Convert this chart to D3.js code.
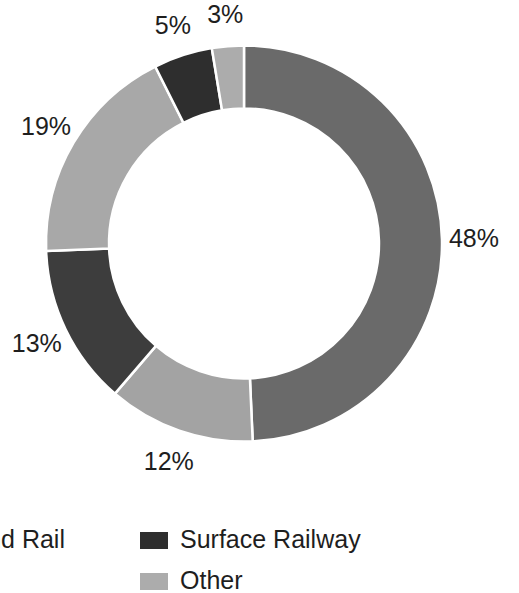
<!DOCTYPE html>
<html>
<head>
<meta charset="utf-8">
<script src="https://cdn.jsdelivr.net/npm/d3@7/dist/d3.min.js"></script>
<style>
  html, body { margin: 0; padding: 0; background: #fff; }
  svg { display: block; }
  text { font-family: "Liberation Sans", Arial, Helvetica, sans-serif; fill: #1e1e1e; }
</style>
</head>
<body>
<svg id="chart" width="519" height="593"></svg>
<script>
// ---- data ----
const categories = ["Bus", "Commuter Rail", "Underground Rail", "Ferry", "Surface Railway", "Other"];
const shares = [49.3, 12.0, 13.1, 18.2, 4.8, 2.6];           // slice sizes as drawn
const shareLabels = ["48%", "12%", "13%", "19%", "5%", "3%"]; // printed labels
const colors = ["#6a6a6a", "#a3a3a3", "#3d3d3d", "#a8a8a8", "#2e2e2e", "#acacac"];

const svg = d3.select("#chart");
const cx = 244, cy = 243.5, outerR = 198, innerR = 135, labelR = 230;

const data = categories.map((c, i) => ({ cat: c, value: shares[i], label: shareLabels[i], color: colors[i] }));

const pie = d3.pie().value(d => d.value).sort(null);
const arc = d3.arc().innerRadius(innerR).outerRadius(outerR);
const labelArc = d3.arc().innerRadius(labelR).outerRadius(labelR);

const g = svg.append("g").attr("transform", `translate(${cx},${cy})`);
const arcs = pie(data);

g.selectAll("path.slice").data(arcs).join("path")
  .attr("class", "slice")
  .attr("d", arc)
  .attr("fill", d => d.data.color)
  .attr("stroke", "#fff")
  .attr("stroke-width", 2.5)
  .attr("stroke-linejoin", "miter");

g.selectAll("text.lbl").data(arcs).join("text")
  .attr("class", "lbl")
  .attr("transform", d => `translate(${labelArc.centroid(d)})`)
  .attr("text-anchor", "middle")
  .attr("dy", "0.36em")
  .style("font-size", "25px")
  .text(d => d.data.label);

// ---- legend (3 columns, column-major, 2 rows) ----
const colStep = 311, rowStep = 41;
const lastColX = 140, legendTop = 532;
const legend = svg.append("g");
const items = legend.selectAll("g.item").data(data).join("g")
  .attr("class", "item")
  .attr("transform", (d, i) => {
    const col = Math.floor(i / 2), row = i % 2;
    return `translate(${lastColX - (2 - col) * colStep},${legendTop + row * rowStep})`;
  });
items.append("rect")
  .attr("width", 28).attr("height", 17)
  .attr("fill", d => d.color);
items.append("text")
  .attr("x", 40).attr("y", 15.5)
  .style("font-size", "25px")
  .text(d => d.cat);
</script>
</body>
</html>
